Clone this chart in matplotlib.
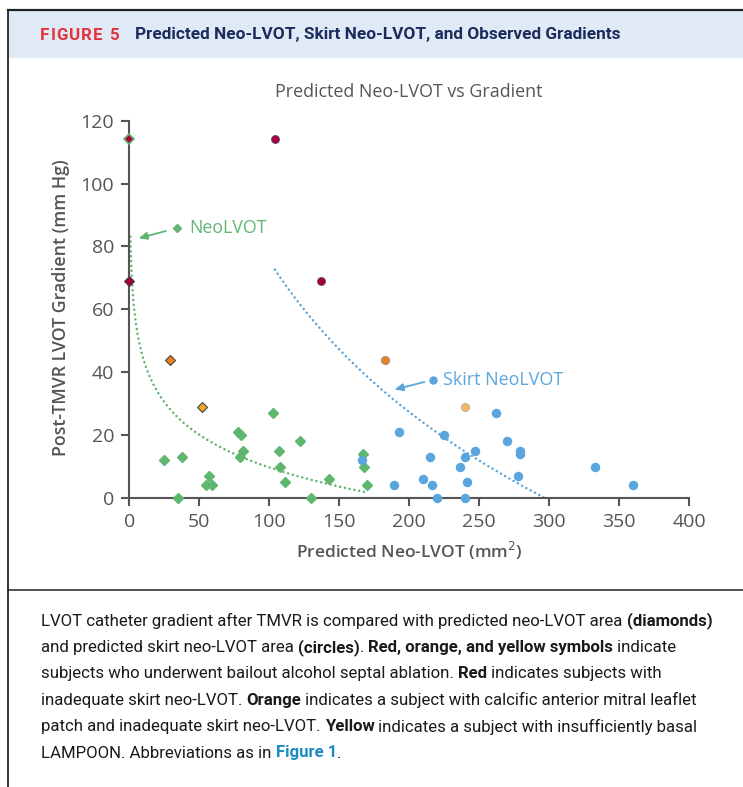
import numpy as np
import matplotlib
matplotlib.use("Agg")
import matplotlib.pyplot as plt
from matplotlib.patches import Rectangle
from matplotlib.lines import Line2D

# ---- data ----
# predicted neo-LVOT (diamonds)
neo_x = [25, 38, 35, 57, 55, 59, 78, 80, 81, 79, 103, 107, 108, 111, 122, 130, 143, 167, 168, 170]
neo_y = [12, 13, 0, 7, 4, 4, 21, 20, 15, 13, 27, 15, 10, 5, 18, 0, 6, 14, 10, 4]
neo_red_x = [0, 0]
neo_red_y = [114, 69]
neo_orange_x = [29]
neo_orange_y = [44]
neo_yellow_x = [52]
neo_yellow_y = [29]

# predicted skirt neo-LVOT (circles)
skirt_x = [166, 189, 193, 210, 215, 216, 220, 225, 236, 240, 241, 240, 247, 262, 270, 279, 279, 278, 333, 360]
skirt_y = [12, 4, 21, 6, 13, 4, 0, 20, 10, 13, 5, 0, 15, 27, 18, 15, 14, 7, 10, 4]
skirt_red_x = [104, 137]
skirt_red_y = [114, 69]
skirt_orange_x = [183]
skirt_orange_y = [44]
skirt_yellow_x = [240]
skirt_yellow_y = [29]

# log trendlines y = a - b*ln(x), coefficients
neo_trend = (78.8, 15.0, 0.75, 170)
skirt_trend = (394.0, 69.2, 104, 360)

xticks = [0, 50, 100, 150, 200, 250, 300, 350, 400]
yticks = [0, 20, 40, 60, 80, 100, 120]

GREEN = "#5fb66f"
BLUE = "#5aa5dc"
RED = "#a8003b"
ORANGE = "#f0801e"
AMBER = "#f6a623"
YELLOW = "#f4b860"
GREY = "#555555"
NAVY = "#1c2d5c"

W, H = 743, 787
fig = plt.figure(figsize=(W / 100, H / 100), dpi=100)
FONT = ["Open Sans", "DejaVu Sans"]
CAPFONT = ["Roboto", "DejaVu Sans"]


def fx(px):
    return px / W


def fy(py):
    return 1 - py / H


# frame, header band, separator
fig.patches.append(Rectangle((fx(8), fy(57)), fx(W - 8), 46 / H,
                             transform=fig.transFigure, color="#dfeaf6", zorder=0))
fig.lines.append(Line2D([fx(8), 1], [fy(10), fy(10)], transform=fig.transFigure, color="#222222", lw=1.6))
fig.lines.append(Line2D([fx(8), fx(8)], [fy(10), 0], transform=fig.transFigure, color="#222222", lw=1.3))
fig.lines.append(Line2D([fx(8), 1], [fy(590), fy(590)], transform=fig.transFigure, color="#222222", lw=1.1))

renderer = fig.canvas.get_renderer()


def seg_width(s, **kw):
    # width in px, measured with a bar on the end so spaces count
    t1 = fig.text(0, 0, s + "|", **kw)
    t2 = fig.text(0, 0, "|", **kw)
    w = t1.get_window_extent(renderer).width - t2.get_window_extent(renderer).width
    t1.remove()
    t2.remove()
    return w


def rich_line(x, y, parts, size, family, spacing=0.0):
    for s, weight, color in parts:
        kw = dict(fontsize=size, fontweight=weight, family=family)
        if spacing:
            for ch in s:
                fig.text(fx(x), fy(y), ch, color=color, va="center", ha="left", **kw)
                x += seg_width(ch, **kw) + spacing
        else:
            fig.text(fx(x), fy(y), s, color=color, va="center", ha="left", **kw)
            x += seg_width(s, **kw)
    return x


rich_line(40, 35, [("FIGURE 5", "bold", "#e3343f")], 12.2, CAPFONT, spacing=1.1)
rich_line(135, 35, [("Predicted Neo-LVOT, Skirt Neo-LVOT, and Observed Gradients", "bold", NAVY)],
          12.4, CAPFONT)

# ---- chart ----
ax = fig.add_axes([fx(129.3), fy(498), (689 - 129.3) / W, (498 - 120.6) / H])
ax.set_xlim(0, 400)
ax.set_ylim(0, 120)
for s in ["top", "right"]:
    ax.spines[s].set_visible(False)
for s in ["left", "bottom"]:
    ax.spines[s].set_color(GREY)
    ax.spines[s].set_linewidth(1.5)
ax.set_xticks(xticks)
ax.set_yticks(yticks)
ax.tick_params(direction="out", length=6, width=1.5, color=GREY, labelcolor=GREY,
               labelsize=14, pad=5)
for lab in ax.get_xticklabels() + ax.get_yticklabels():
    lab.set_family(FONT)

# dotted trendlines
for (a, b, x0, x1), col in [(neo_trend, GREEN), (skirt_trend, BLUE)]:
    tx = np.linspace(x0, x1, 300)
    ax.plot(tx, a - b * np.log(tx), color=col, lw=1.8, linestyle=(0, (0.05, 1.9)),
            dash_capstyle="round", zorder=2)

ax.plot(neo_x, neo_y, "D", color=GREEN, ms=5.2, mec=GREEN, clip_on=False, zorder=3)
ax.plot(skirt_x, skirt_y, "o", color=BLUE, ms=5.8, mec=BLUE, clip_on=False, zorder=3)
ax.plot(neo_red_x[:1], neo_red_y[:1], "D", color=RED, ms=5, mec=GREEN, mew=1.2, clip_on=False, zorder=4)
ax.plot(neo_red_x[1:], neo_red_y[1:], "D", color=RED, ms=5, mec="#444444", mew=0.8, clip_on=False, zorder=4)
ax.plot(neo_orange_x, neo_orange_y, "D", color=ORANGE, ms=5.2, mec="#444444", mew=0.8, zorder=4)
ax.plot(neo_yellow_x, neo_yellow_y, "D", color=AMBER, ms=5.2, mec="#444444", mew=0.8, zorder=4)
ax.plot(skirt_red_x, skirt_red_y, "o", color=RED, ms=5.8, mec="#5a5a7a", mew=0.6, zorder=4)
ax.plot(skirt_orange_x, skirt_orange_y, "o", color=ORANGE, ms=5.8, mec="#888888", mew=0.6, zorder=4)
ax.plot(skirt_yellow_x, skirt_yellow_y, "o", color=YELLOW, ms=5.8, mec="#aaaaaa", mew=0.6, zorder=4)

# series labels with arrows
ax.annotate("", xy=(6.7, 82.6), xytext=(26.2, 84.9),
            arrowprops=dict(arrowstyle="-|>,head_length=0.5,head_width=0.22", color=GREEN, lw=1.3,
                            shrinkA=0, shrinkB=0))
ax.plot([34], [86], "D", color=GREEN, ms=4.2)
ax.text(42.6, 86, "NeoLVOT", color=GREEN, fontsize=12.8, family=FONT, va="center", ha="left")
ax.annotate("", xy=(189.6, 34.5), xytext=(211, 36.9),
            arrowprops=dict(arrowstyle="-|>,head_length=0.5,head_width=0.22", color=BLUE, lw=1.3,
                            shrinkA=0, shrinkB=0))
ax.plot([216.7], [37.5], "o", color=BLUE, ms=5)
ax.text(224, 37.5, "Skirt NeoLVOT", color=BLUE, fontsize=12.9, family=FONT, va="center", ha="left")

fig.text(fx(409), fy(92), "Predicted Neo-LVOT vs Gradient", color=GREY, fontsize=12.9,
         family=FONT, ha="center", va="center")
fig.text(fx(409), fy(551), "Predicted Neo-LVOT (mm$^2$)", color=GREY, fontsize=12.5,
         family=FONT, fontweight="semibold", ha="center", va="center")
fig.text(fx(61), fy(308), "Post-TMVR LVOT Gradient (mm Hg)", color=GREY, fontsize=12.8,
         family=FONT, fontweight="semibold", ha="center", va="center", rotation=90)

# ---- caption ----
K = "#1a1a1a"
cap = [
    [("LVOT catheter gradient after TMVR is compared with predicted neo-LVOT area ", "normal", K),
     ("(diamonds)", "bold", K)],
    [("and predicted skirt neo-LVOT area ", "normal", K), ("(circles)", "bold", K), (". ", "normal", K),
     ("Red, orange, and yellow symbols", "bold", K), (" indicate", "normal", K)],
    [("subjects who underwent bailout alcohol septal ablation. ", "normal", K), ("Red", "bold", K),
     (" indicates subjects with", "normal", K)],
    [("inadequate skirt neo-LVOT. ", "normal", K), ("Orange", "bold", K),
     (" indicates a subject with calcific anterior mitral leaflet", "normal", K)],
    [("patch and inadequate skirt neo-LVOT. ", "normal", K), ("Yellow", "bold", K),
     (" indicates a subject with insufficiently basal", "normal", K)],
    [("LAMPOON. Abbreviations as in ", "normal", K), ("Figure 1", "bold", "#1a8cc4"), (".", "normal", K)],
]
for i, parts in enumerate(cap):
    rich_line(41, 621 + i * 26.4, parts, 12.1, CAPFONT)

fig.savefig("out.png", dpi=100)
